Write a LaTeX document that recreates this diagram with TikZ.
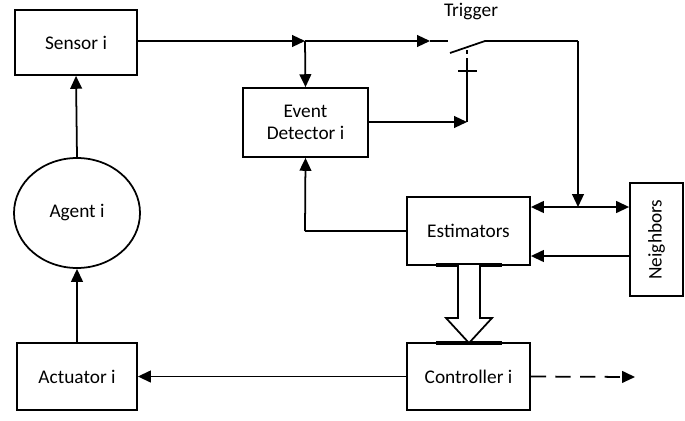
\documentclass[tikz,border=0pt]{standalone}
\usepackage{fontspec}
\setmainfont{Carlito}
\usetikzlibrary{arrows.meta,shapes.geometric}
\begin{document}
\begin{tikzpicture}[x=0.03cm,y=-0.03cm,line width=1.5pt,
  box/.style={draw,line width=1.5pt,rectangle,inner sep=0pt,font=\fontsize{16.5}{19}\selectfont,align=center},
  ar/.style={line width=1.5pt,-{Triangle[length=11pt,width=10pt]}},
  ln/.style={line width=1.5pt}]
\useasboundingbox (0,0) rectangle (685,420);
\node[box,minimum width=122*0.03cm,minimum height=65*0.03cm] (sensor) at (76,42.5) {Sensor i};
\node[draw,line width=1.5pt,ellipse,minimum width=126*0.03cm,minimum height=110*0.03cm,inner sep=0pt,font=\fontsize{16.5}{19}\selectfont] (agent) at (77,213) {Agent i};
\node[box,minimum width=120*0.03cm,minimum height=67*0.03cm] (act) at (77,376.5) {Actuator i};
\node[box,minimum width=125*0.03cm,minimum height=69*0.03cm] (ed) at (305.5,122.5) {Event\\Detector i};
\node[box,minimum width=123*0.03cm,minimum height=68*0.03cm] (est) at (468.5,231) {Estimators};
\node[box,minimum width=53*0.03cm,minimum height=113*0.03cm] (nb) at (656.5,239.5) {\rotatebox{90}{Neighbors}};
\node[box,minimum width=123*0.03cm,minimum height=67*0.03cm] (ctrl) at (468.5,376.5) {Controller i};
\node[font=\fontsize{16.5}{19}\selectfont] (trig) at (471,12) {Trigger};
% coordinates
\coordinate (j1) at (305,41);
\coordinate (s1) at (430,41);
\coordinate (s2) at (505,41);
\coordinate (c1) at (578,41);
\coordinate (c2) at (578,207);
\coordinate (sw) at (467,122);
\coordinate (dash) at (635,377);
% top path
\draw[ar] (sensor.east|-j1) -- (j1);
\draw[ar] (j1) -- (s1);
\draw[ln] (s1) -- (448,41);
\draw[ln] (450,53) -- (485,41) -- (s2);
\draw[ln] (s2) -- (c1);
\draw[ar] (c1) -- (c2);
\draw[ar] (j1) -- (ed.north);
% switch control
\draw[ar] (ed.east|-sw) -- (sw);
\draw[ln] (sw) -- (467,58);
\draw[ln] (458,71) -- (477,71);
\draw[ln] (467,50) -- (467,54);
% estimators <-> neighbors
\draw[ar] (c2) -- (nb.west|-c2);
\draw[ar] (c2) -- (est.east|-c2);
\draw[ar] (nb.west|-0,256) -- (est.east|-0,256);
% estimators to ED
\draw[ln] (est.west) -- (305,231);
\draw[ar] (305,231) -- (ed.south);
% hollow arrow
\draw[line width=2.6pt] (436,265) -- (502,265) (436,343) -- (502,343);
\draw[ln,fill=white] (458,265) -- (458,318) -- (446,318) -- (469,343) -- (492,318) -- (480,318) -- (480,265);
% bottom
\draw[ar] (ctrl.west) -- (act.east);
\draw[ar,dash pattern=on 13pt off 8pt] (ctrl.east) -- (dash);
\draw[ar] (act.north) -- (agent.south);
\draw[ar] (agent.north) -- (sensor.south);
\end{tikzpicture}
\end{document}
